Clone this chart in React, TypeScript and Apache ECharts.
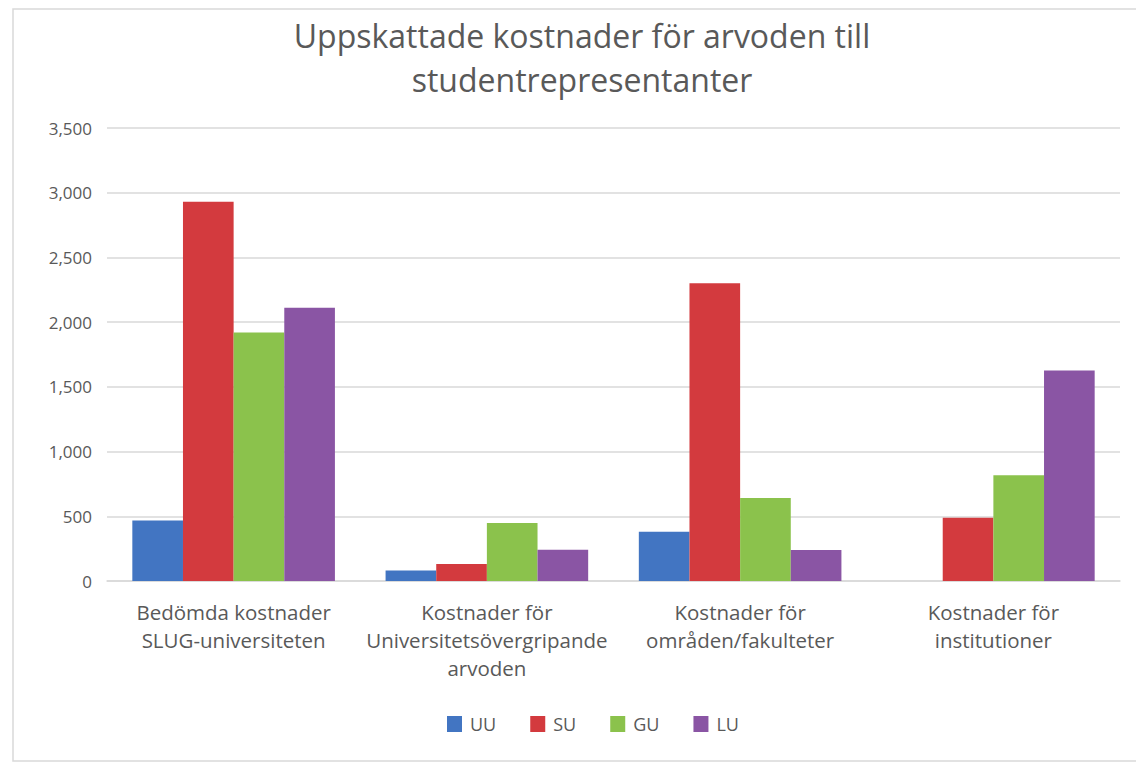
import React, { useEffect, useRef } from "react";
import * as echarts from "echarts";

const titleText = "Uppskattade kostnader för arvoden till\nstudentrepresentanter";
const categories = [
  "Bedömda kostnader\nSLUG-universiteten",
  "Kostnader för\nUniversitetsövergripande\narvoden",
  "Kostnader för\nområden/fakulteter",
  "Kostnader för\ninstitutioner",
];
const seriesNames = ["UU", "SU", "GU", "LU"];
const uuValues = [468, 82, 381, 0];
const suValues = [2930, 131, 2300, 488];
const guValues = [1920, 448, 641, 817];
const luValues = [2112, 242, 240, 1627];
const seriesColors = ["#4275c2", "#d33a3e", "#8bc24c", "#8a55a4"];
const yTicks = { min: 0, max: 3500, interval: 500 };

const FONT = "'Open Sans', 'Noto Sans', sans-serif";

export default function App() {
  const ref = useRef<HTMLDivElement>(null);
  useEffect(() => {
    document.body.style.margin = "0";
    const chart = echarts.init(ref.current!, null, { renderer: "svg" });
    const allValues = [uuValues, suValues, guValues, luValues];
    chart.setOption({
      animation: false,
      backgroundColor: "#ffffff",
      title: {
        text: titleText,
        left: 577,
        top: 8,
        textAlign: "center",
        textStyle: {
          fontFamily: FONT,
          fontSize: 32,
          fontWeight: "normal",
          color: "#595959",
          lineHeight: 44,
        },
      },
      graphic: [
        {
          type: "polyline",
          shape: { points: [[1136, 9], [13, 9], [13, 761], [1136, 761]] },
          style: { stroke: "#d9d9d9", lineWidth: 1.5, fill: null },
          silent: true,
        },
      ],
      legend: {
        data: seriesNames,
        top: 710,
        left: 442,
        itemWidth: 15,
        itemHeight: 16,
        itemGap: 34,
        icon: "rect",
        textStyle: { fontFamily: FONT, fontSize: 18, color: "#595959", padding: [0, 0, 0, 3] },
      },
      grid: { left: 107, right: 16, top: 128, bottom: 182, containLabel: false },
      xAxis: {
        type: "category",
        data: categories,
        axisTick: { show: false },
        axisLine: { lineStyle: { color: "#d9d9d9", width: 1.5 } },
        axisLabel: {
          fontFamily: FONT,
          fontSize: 20.5,
          color: "#595959",
          lineHeight: 28,
          margin: 17,
          interval: 0,
        },
      },
      yAxis: {
        type: "value",
        min: yTicks.min,
        max: yTicks.max,
        interval: yTicks.interval,
        axisLine: { show: false },
        axisTick: { show: false },
        splitLine: { lineStyle: { color: "#d9d9d9", width: 1.5 } },
        axisLabel: {
          fontFamily: FONT,
          fontSize: 17,
          color: "#595959",
          margin: 15,
          formatter: (v: number) => v.toLocaleString("en-US"),
        },
      },
      series: seriesNames.map((name, i) => ({
        name,
        type: "bar",
        data: allValues[i],
        itemStyle: { color: seriesColors[i] },
        barGap: "0%",
        barCategoryGap: "20%",
      })),
    });
    return () => chart.dispose();
  }, []);
  return <div ref={ref} style={{ width: 1136, height: 763 }} />;
}
